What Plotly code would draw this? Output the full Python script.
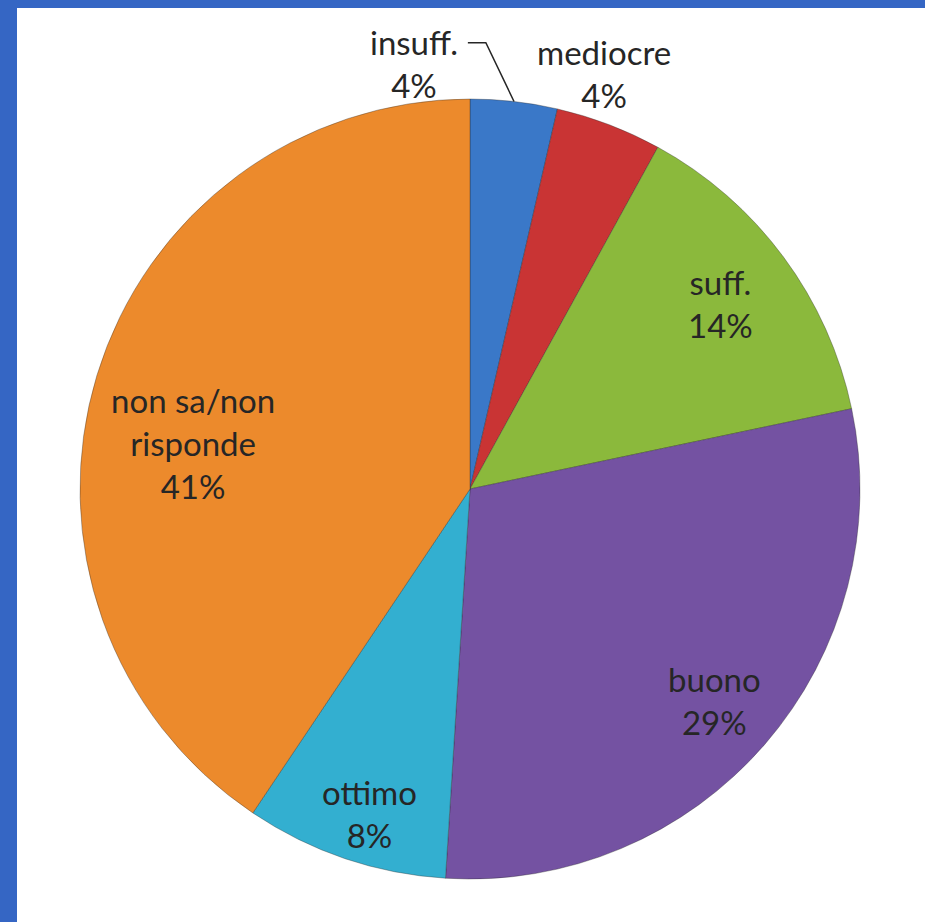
import math
import plotly.graph_objects as go

# slices, clockwise from 12 o'clock
labels = ["insuff.", "mediocre", "suff.", "buono", "ottimo", "non sa/non<br>risponde"]
values = [3.6, 4.4, 13.7, 29.3, 8.4, 40.6]
colors = ["#3a78c8", "#c93434", "#8bb93c", "#7452a2", "#33afd0", "#ec8a2c"]

# label placement: radius as fraction of pie radius, angle nudge in degrees
label_r = [1.10, 1.12, 0.80, 0.83, 0.87, 0.72]
label_da = [-14, -3, 0, 0, -1.5, -7.4]

W, H = 925, 922
CX, CY, R = 470, 489, 390   # pie centre / radius in pixels
FONT = dict(family="Lato, Calibri, sans-serif", size=33, color="#262626")


def to_paper(px, py):
    return px / W, 1 - py / H


fig = go.Figure(go.Pie(
    labels=labels,
    values=values,
    sort=False,
    direction="clockwise",
    rotation=0,
    marker=dict(colors=colors, line=dict(color="rgba(40,40,40,0.35)", width=1)),
    textinfo="none",
    hoverinfo="skip",
    showlegend=False,
    domain=dict(x=[(CX - R) / W, (CX + R) / W], y=[1 - (CY + R) / H, 1 - (CY - R) / H]),
))

total = sum(values)
cum = 0
anns = []
shapes = [
    # white panel over the blue slide background
    dict(type="rect", xref="paper", yref="paper", x0=17 / W, x1=1, y0=0, y1=1 - 8 / H,
         fillcolor="white", line_width=0, layer="below"),
]
for i, v in enumerate(values):
    mid = (cum + v / 2) / total * 360
    cum += v
    ang = math.radians(mid + label_da[i])
    lx = CX + R * label_r[i] * math.sin(ang)
    ly = CY - R * label_r[i] * math.cos(ang)
    pct = round(v / total * 100)
    x, y = to_paper(lx, ly)
    anns.append(dict(x=x, y=y, xref="paper", yref="paper", showarrow=False,
                     xanchor="center", yanchor="middle",
                     text=f"{labels[i]}<br>{pct}%", font=FONT, align="center"))
    if i == 0:
        # leader line from the label to the slice edge
        ex = CX + R * math.sin(math.radians(mid))
        ey = CY - R * math.cos(math.radians(mid))
        p0 = to_paper(lx + 54, ly - 21)
        p1 = to_paper(lx + 72, ly - 21)
        p2 = to_paper(ex, ey)
        path = f"M {p0[0]},{p0[1]} L {p1[0]},{p1[1]} L {p2[0]},{p2[1]}"
        shapes.append(dict(type="path", xref="paper", yref="paper", path=path,
                           line=dict(color="#262626", width=1.5)))

fig.update_layout(
    width=W, height=H,
    margin=dict(l=0, r=0, t=0, b=0),
    paper_bgcolor="#3566c4",
    plot_bgcolor="white",
    annotations=anns,
    shapes=shapes,
)

fig.write_html("out.html", config={"displayModeBar": False},
               post_script="document.body.style.margin='0';")
